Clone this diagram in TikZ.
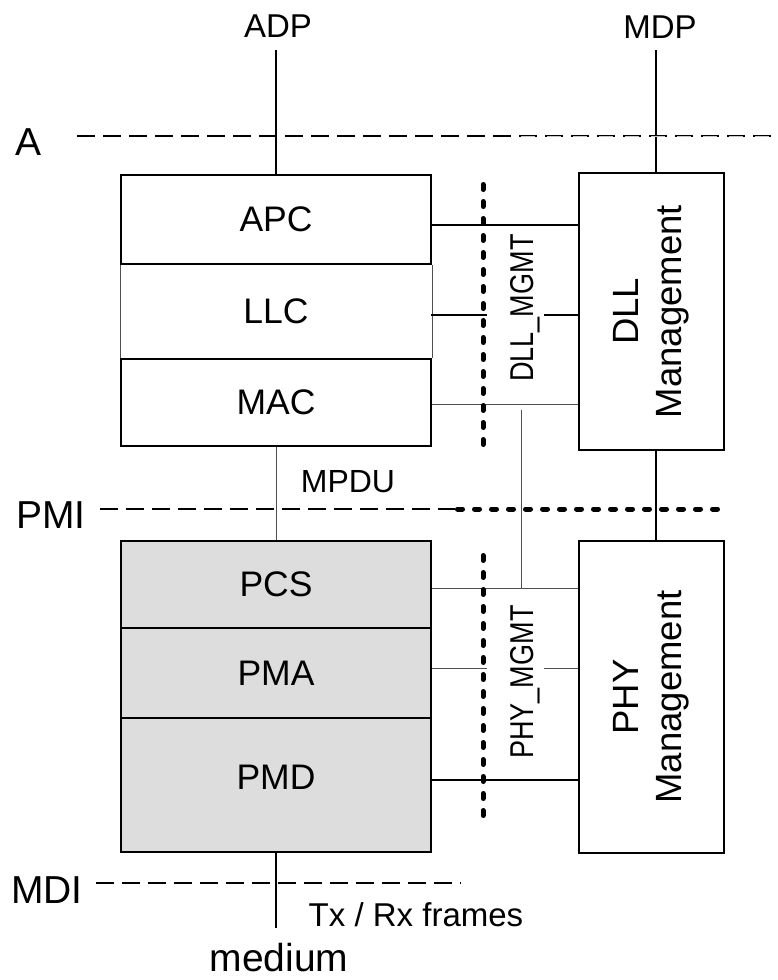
\documentclass[tikz,border=0pt]{standalone}
\usepackage{fontspec}
\setmainfont{Liberation Sans}
\newfontfamily\narrowfont[FakeStretch=0.82]{Liberation Sans}
\definecolor{layergray}{HTML}{DDDDDD}
\definecolor{thingray}{HTML}{505050}
\begin{document}
\begin{tikzpicture}[x=1pt,y=-1pt,
  blk/.style={draw=black,line width=2pt},
  thn/.style={draw=thingray,line width=1pt},
  dsh/.style={draw=black,line width=2pt,dash pattern=on 18pt off 8pt},
  dotl/.style={draw=black,line width=5pt,line cap=round,dash pattern=on 5pt off 12pt},
  layer/.style={rectangle,minimum width=310pt,inner sep=0pt,font=\fontsize{35.5}{40}\selectfont},
  mgmt/.style={rectangle,draw=black,line width=2pt,minimum width=145pt,inner sep=0pt,font=\fontsize{36.5}{43}\selectfont},
  ifc/.style={inner sep=0pt,font=\fontsize{39}{44}\selectfont},
  lbl/.style={inner sep=0pt,font=\fontsize{33}{38}\selectfont},
  mgmtlbl/.style={rotate=90,anchor=base,fill=white,text height=42pt,text depth=7pt,inner sep=4pt,font=\narrowfont\fontsize{33}{38}\selectfont}
]
\fill[white] (0,0) rectangle (777,980);
\useasboundingbox (0,0) rectangle (777,980);

% upper stack
\node[layer,draw=black,line width=2pt,minimum height=89pt] (apc) at (276,219.5) {APC};
\node[layer,minimum height=95pt] (llc) at (276,311.5) {LLC};
\node[layer,draw=black,line width=2pt,minimum height=87pt] (mac) at (276,402.5) {MAC};
\draw[thn] (apc.south west) -- (mac.north west);
\draw[thn] (apc.south east) -- (mac.north east);

% lower stack
\node[layer,draw=black,fill=layergray,line width=2pt,minimum height=87pt] (pcs) at (276,584.5) {PCS};
\node[layer,draw=black,fill=layergray,line width=2pt,minimum height=90pt] (pma) at (276,673) {PMA};
\node[layer,draw=black,fill=layergray,line width=2pt,minimum height=134pt,text depth=16pt] (pmd) at (276,785) {PMD};

% management boxes
\node[mgmt,minimum height=277pt] (dll) at (651.5,311.5)
  {\rotatebox{90}{\begin{tabular}{@{}c@{}}DLL\\Management\end{tabular}}};
\node[mgmt,minimum height=312pt] (phy) at (651.5,697)
  {\rotatebox{90}{\begin{tabular}{@{}c@{}}PHY\\Management\end{tabular}}};

% top labels and lines
\node[lbl] (adp) at (278,26) {ADP};
\node[lbl] (mdp) at (660,27) {MDP};
\coordinate (adpend) at (276,50);
\coordinate (mdpend) at (656,50);
\draw[blk] (adpend) -- (apc.north);
\draw[blk] (mdpend) -- (mdpend |- dll.north);
\draw[blk] (dll.south -| mdpend) -- (phy.north -| mdpend);

% connectors stack -> management
\draw[blk] ([yshift=-5.5pt]apc.east) -- ([yshift=-5.5pt]apc.east -| dll.west);
\draw[blk] ([yshift=-3.5pt]llc.east) -- ([yshift=-3.5pt]llc.east -| dll.west);
\draw[thn] ([yshift=-1.5pt]mac.east) -- ([yshift=-1.5pt]mac.east -| dll.west);
\coordinate (pcsr) at ([yshift=-3.5pt]pcs.east);
\draw[thn] (pcsr) -- (pcsr -| phy.west);
\draw[thn] ([yshift=5pt]pma.east) -- ([yshift=5pt]pma.east -| phy.west);
\draw[blk] ([yshift=5pt]pmd.east) -- ([yshift=5pt]pmd.east -| phy.west);
\coordinate (lk1) at (521,410);
\draw[thn] (lk1) -- (lk1 |- pcsr);

% SAP labels
\node[mgmtlbl] (dllmgmt) at (533,308) {DLL\_MGMT};
\node[mgmtlbl] (phymgmt) at (533,682) {PHY\_MGMT};

% vertical dotted boundaries
\coordinate (d1) at (483,184.5);
\coordinate (d2) at (483,447);
\coordinate (d3) at (483,555.5);
\coordinate (d4) at (483,818);
\draw[dotl] (d1) -- (d2);
\draw[dotl] (d3) -- (d4);

% MPDU
\draw[thn] (mac.south) -- (pcs.north);
\node[lbl,font=\fontsize{32}{38}\selectfont] (mpdu) at (348,482) {MPDU};

% interface A
\node[ifc] (alab) at (29,142) {A};
\coordinate (a1) at (77,136);
\coordinate (a2) at (777,136);
\draw[dsh] (a1) -- (a2);
\coordinate (a3) at (519,136);
\draw[draw=gray!45,line width=0.8pt,dash pattern=on 0pt off 2pt on 14pt off 10pt] (a3) -- (a2);

% interface PMI
\node[ifc] (pmilab) at (51,515) {PMI};
\coordinate (p1) at (100,509);
\coordinate (p2) at (455,509);
\coordinate (p3) at (457.5,509);
\coordinate (p4) at (725,509);
\draw[dsh] (p1) -- (p2);
\draw[dotl] (p3) -- (p4);

% interface MDI
\node[ifc] (mdilab) at (47,890) {MDI};
\coordinate (m1) at (96,883);
\coordinate (m2) at (461,883);
\draw[dsh] (m1) -- (m2);

% medium
\coordinate (medend) at (276,928);
\draw[blk] (pmd.south) -- (medend);
\node[lbl] (txrx) at (416,915) {Tx / Rx frames};
\node[ifc] (medium) at (279,958) {medium};
\end{tikzpicture}
\end{document}
